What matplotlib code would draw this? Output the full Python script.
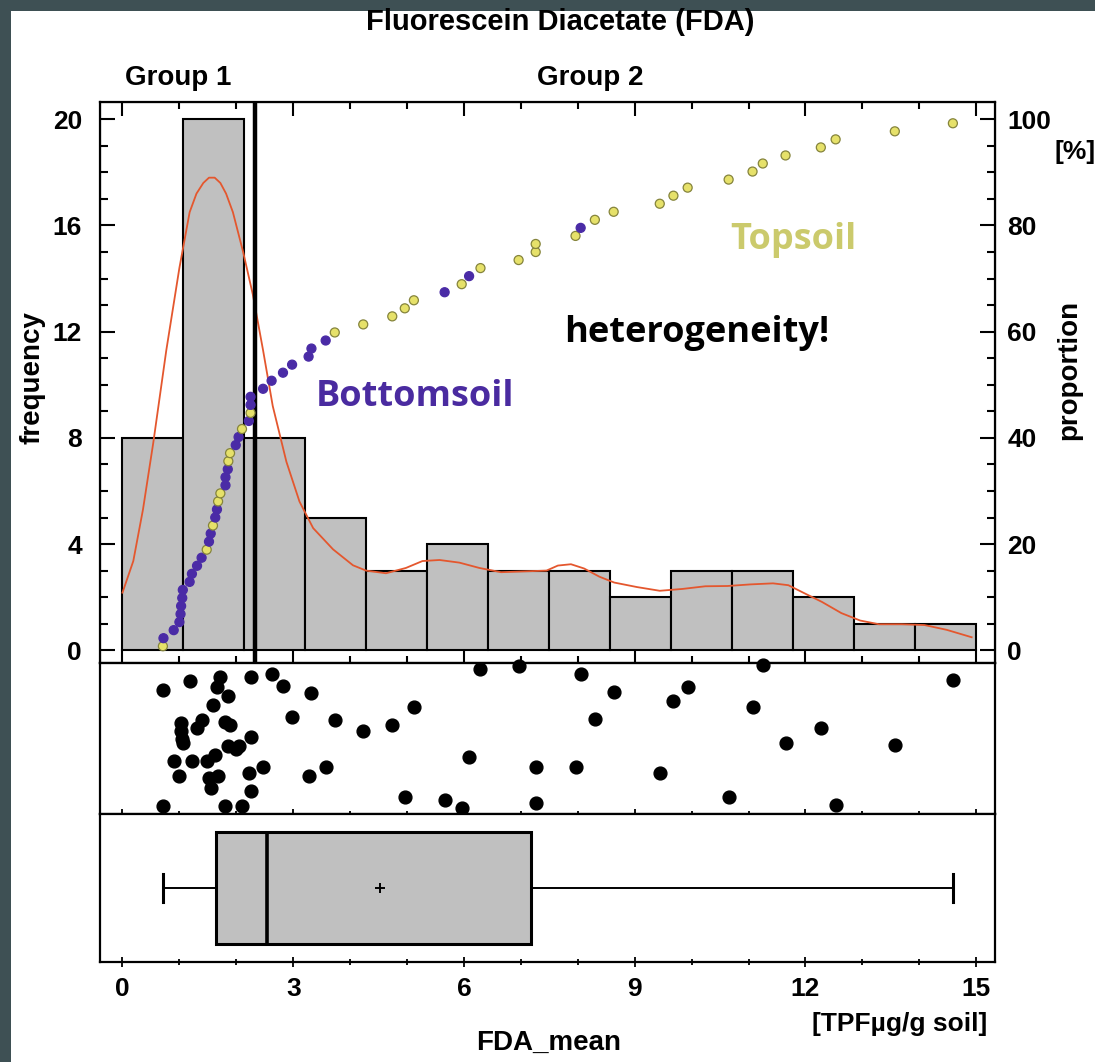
import numpy as np
import matplotlib.pyplot as plt
from matplotlib.patches import Rectangle
from matplotlib.ticker import MultipleLocator

fda_sorted = [0.71, 0.72, 0.90, 1.00, 1.02, 1.03, 1.05, 1.06, 1.18, 1.22,
              1.31, 1.39, 1.48, 1.52, 1.55, 1.59, 1.63, 1.66, 1.68, 1.72,
              1.81, 1.81, 1.85, 1.86, 1.89, 1.99, 2.04, 2.10, 2.22, 2.25,
              2.25, 2.25, 2.47, 2.62, 2.82, 2.98, 3.27, 3.32, 3.57, 3.73,
              4.23, 4.74, 4.96, 5.12, 5.66, 5.96, 6.09, 6.29, 6.96, 7.26,
              7.26, 7.96, 8.05, 8.30, 8.63, 9.44, 9.68, 9.93, 10.65, 11.07,
              11.25, 11.65, 12.27, 12.53, 13.57, 14.59]

# T = topsoil, B = bottomsoil, same order as fda_sorted
soil = ("TBBBBBBBBB"
        "BBTBBTBBTT"
        "BBBTTBBTBT"
        "BBBBBBBBBT"
        "TTTTBTBTTT"
        "TTBTTTTTTT"
        "TTTTTT")

# vertical position of each dot in the strip panel (0 = bottom, 1 = top)
jitter = [0.82, 0.05, 0.35, 0.25, 0.60, 0.55, 0.50, 0.47, 0.88, 0.35,
          0.57, 0.62, 0.35, 0.24, 0.17, 0.72, 0.39, 0.84, 0.25, 0.91,
          0.61, 0.05, 0.45, 0.78, 0.59, 0.43, 0.45, 0.05, 0.27, 0.15,
          0.51, 0.91, 0.31, 0.93, 0.85, 0.64, 0.25, 0.80, 0.31, 0.62,
          0.55, 0.59, 0.11, 0.71, 0.09, 0.04, 0.38, 0.96, 0.98, 0.31,
          0.07, 0.31, 0.93, 0.63, 0.81, 0.27, 0.75, 0.84, 0.11, 0.71,
          0.99, 0.47, 0.57, 0.06, 0.46, 0.89]

# density curve (in frequency units)
kde_x = [0.0, 0.19, 0.36, 0.54, 0.77, 1.0, 1.18, 1.30, 1.42, 1.52,
         1.62, 1.72, 1.82, 1.94, 2.12, 2.29, 2.47, 2.64, 2.88, 3.11,
         3.35, 3.70, 4.05, 4.28, 4.63, 4.98, 5.27, 5.57, 5.92, 6.27,
         6.65, 7.05, 7.45, 7.65, 7.88, 8.11, 8.38, 8.64, 9.04, 9.44,
         9.84, 10.24, 10.63, 11.03, 11.43, 11.70, 11.96, 12.29, 12.63, 12.96,
         13.29, 13.69, 14.09, 14.48, 14.92]
kde_y = [2.17, 3.36, 5.3, 7.8, 11.3, 14.4, 16.5, 17.2, 17.6, 17.8,
         17.8, 17.6, 17.2, 16.5, 15.0, 13.4, 11.3, 9.2, 7.1, 5.6,
         4.6, 3.8, 3.2, 3.0, 2.9, 3.1, 3.36, 3.4, 3.3, 3.1,
         2.94, 2.97, 3.0, 3.19, 3.24, 3.08, 2.77, 2.55, 2.38, 2.24,
         2.31, 2.41, 2.42, 2.48, 2.52, 2.45, 2.17, 1.82, 1.40, 1.12,
         0.98, 0.98, 0.95, 0.77, 0.49]

bin_edges = np.linspace(0, 15, 15)
group_cut = 2.33

arial = ['Liberation Sans', 'DejaVu Sans']
slide = ['Open Sans', 'DejaVu Sans']
plt.rcParams['font.family'] = arial
plt.rcParams['font.weight'] = 'bold'

W, H = 1095, 1062
fig = plt.figure(figsize=(W / 100, H / 100), dpi=100, facecolor='#3e5054')
fig.add_artist(Rectangle((11 / W, 0), 1, 1 - 11 / H, transform=fig.transFigure,
                         facecolor='white', edgecolor='none', zorder=-5))


def fy(px):
    return 1 - px / H


L, R = 100 / W, 995 / W
ax_h = fig.add_axes([L, fy(663), R - L, fy(102) - fy(663)])
ax_s = fig.add_axes([L, fy(814), R - L, fy(663) - fy(814)])
ax_b = fig.add_axes([L, fy(962), R - L, fy(814) - fy(962)])

xlim = (-0.395, 15.33)
for a in (ax_h, ax_s, ax_b):
    a.set_xlim(*xlim)
    a.xaxis.set_major_locator(MultipleLocator(3))
    a.xaxis.set_minor_locator(MultipleLocator(1))
    for sp in a.spines.values():
        sp.set_linewidth(1.6)

# histogram panel
ax_h.hist(fda_sorted, bins=bin_edges, color='#c0c0c0', edgecolor='black', linewidth=1.5)
ax_h.plot(kde_x, kde_y, color='#e4572e', lw=1.3)
ax_h.axvline(group_cut, color='black', lw=3.2, zorder=2.5)
ax_h.set_ylim(-0.48, 20.65)
ax_h.yaxis.set_major_locator(MultipleLocator(4))
ax_h.yaxis.set_minor_locator(MultipleLocator(1))
ax_h.tick_params(axis='x', which='both', direction='in', top=True, bottom=True,
                 labelbottom=False, width=1.5)
ax_h.tick_params(axis='x', which='major', length=10)
ax_h.tick_params(axis='x', which='minor', length=5)
ax_h.tick_params(axis='y', which='both', direction='in', left=True, right=False,
                 width=1.5, labelsize=19, pad=13)
ax_h.tick_params(axis='y', which='major', length=11)
ax_h.tick_params(axis='y', which='minor', length=6)

# cumulative proportion on the right axis
ax_p = ax_h.twinx()
ax_p.set_ylim(-0.48 * 5, 20.65 * 5)
ax_p.yaxis.set_major_locator(MultipleLocator(20))
ax_p.yaxis.set_minor_locator(MultipleLocator(5))
ax_p.tick_params(axis='y', which='both', direction='in', width=1.5, labelsize=19, pad=9)
ax_p.tick_params(axis='y', which='major', length=11)
ax_p.tick_params(axis='y', which='minor', length=6)
n = len(fda_sorted)
prop = (np.arange(1, n + 1) - 0.5) / n * 100
fills = ['#e6e16a' if c == 'T' else '#4a2ba6' for c in soil]
edges = ['#85843c' if c == 'T' else '#4a2ba6' for c in soil]
ax_p.scatter(fda_sorted, prop, s=42, c=fills, edgecolors=edges, linewidths=0.9, zorder=3)

ax_h.text(11.78, 15.1, 'Topsoil', color='#cbca6c', fontsize=26, family=slide,
          weight='bold', ha='center', va='baseline')
ax_h.text(10.09, 11.6, 'heterogeneity!', color='black', fontsize=26, family=slide,
          weight='bold', ha='center', va='baseline')
ax_h.text(5.14, 9.21, 'Bottomsoil', color='#4a2ba0', fontsize=26, family=slide,
          weight='bold', ha='center', va='baseline')

# dot strip
ax_s.scatter(fda_sorted, jitter, s=85, color='black', clip_on=False, zorder=3)
ax_s.set_ylim(0, 1)
ax_s.set_yticks([])
ax_s.tick_params(axis='x', which='both', direction='inout', labelbottom=False, width=1.3)
ax_s.tick_params(axis='x', which='major', length=7)
ax_s.tick_params(axis='x', which='minor', length=4)

# box plot
ax_b.boxplot(fda_sorted, orientation='horizontal', positions=[0.5], widths=0.76,
             whis=(0, 100), patch_artist=True, showmeans=True, showfliers=False,
             capwidths=0.19,
             boxprops=dict(facecolor='#c0c0c0', edgecolor='black', linewidth=2.2),
             medianprops=dict(color='black', linewidth=2.6),
             whiskerprops=dict(color='black', linewidth=1.4),
             capprops=dict(color='black', linewidth=2.2),
             meanprops=dict(marker='+', markeredgecolor='black', markersize=7,
                            markeredgewidth=1.4))
ax_b.set_ylim(0, 1)
ax_b.set_yticks([])
ax_b.set_xticks(range(0, 16, 3))
ax_b.set_xticklabels([str(v) for v in range(0, 16, 3)])
ax_b.tick_params(axis='x', which='both', direction='inout', width=1.3, labelsize=19, pad=7)
ax_b.tick_params(axis='x', which='major', length=7)
ax_b.tick_params(axis='x', which='minor', length=4)

# outer labels
fig.text(560 / W, fy(22), 'Fluorescein Diacetate (FDA)', fontsize=21, ha='center', va='center')
fig.text(178 / W, fy(78), 'Group 1', fontsize=20, ha='center', va='center')
fig.text(590 / W, fy(78), 'Group 2', fontsize=20, ha='center', va='center')
fig.text(33 / W, fy(378), 'frequency', fontsize=20, rotation=90, ha='center', va='center')
fig.text(1069 / W, fy(370), 'proportion', fontsize=20, rotation=90, ha='center', va='center')
fig.text(1075 / W, fy(152), '[%]', fontsize=19, ha='center', va='center')
fig.text(549 / W, fy(1043), 'FDA_mean', fontsize=20, ha='center', va='center')
fig.text(900 / W, fy(1024), '[TPF\u00b5g/g soil]', fontsize=19, ha='center', va='center')

fig.savefig('out.png', dpi=100, facecolor=fig.get_facecolor())
